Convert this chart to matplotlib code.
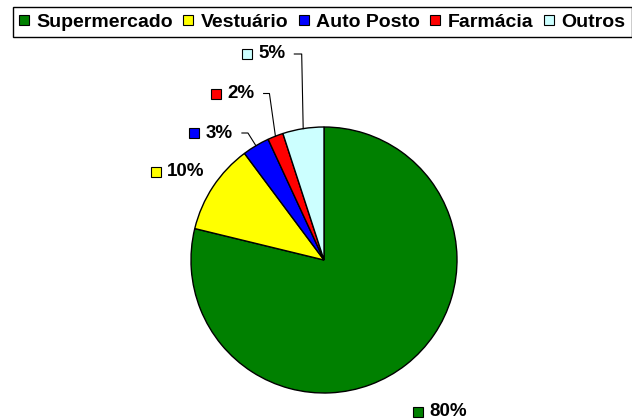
import numpy as np
import matplotlib
matplotlib.use("Agg")
import matplotlib.pyplot as plt
from matplotlib.lines import Line2D

# data (wedge sizes as drawn; printed labels as shown)
categories = ["Supermercado", "Vestuário", "Auto Posto", "Farmácia", "Outros"]
shares = [78.8, 11.0, 3.3, 1.9, 5.0]
labels = ["80%", "10%", "3%", "2%", "5%"]
colors = ["#008000", "#FFFF00", "#0000FF", "#FF0000", "#CCFFFF"]

W, H = 632, 420
plt.rcParams["font.family"] = ["Liberation Sans", "DejaVu Sans"]
plt.rcParams["font.weight"] = "bold"

fig = plt.figure(figsize=(W / 100, H / 100), dpi=100)
ax = fig.add_axes([0, 0, 1, 1])

cx, cy, r = 324, H - 260, 133
wedges, _ = ax.pie(shares, colors=colors, startangle=90, counterclock=False,
                   center=(cx, cy), radius=r, frame=True,
                   wedgeprops=dict(edgecolor="black", linewidth=1))
ax.set_xlim(0, W)
ax.set_ylim(0, H)
ax.set_aspect("equal")
ax.axis("off")

# label square centres (pixel coords from top)
label_pos = [(418, 412), (155.5, 171.7), (194.3, 133), (216, 93.5), (246.7, 54)]
# leader corner offset from the wedge edge point (None = no leader)
leader_dx = [None, None, -8, -6, -1.5]

texts = []
for i in range(len(wedges)):
    px, py = label_pos[i]
    y = H - py
    ax.plot(px, y, "s", ms=7.2, mfc=colors[i], mec="black", mew=0.8)
    texts.append(ax.text(px + 11.5, y, labels[i], fontsize=13.5,
                         fontweight="bold", va="center", ha="left"))

fig.canvas.draw()
renderer = fig.canvas.get_renderer()
for i, w in enumerate(wedges):
    if leader_dx[i] is None:
        continue
    y = H - label_pos[i][1]
    bb = texts[i].get_window_extent(renderer)
    mid = np.deg2rad((w.theta1 + w.theta2) / 2)
    ex = cx + r * np.cos(mid)
    ey = cy + r * np.sin(mid)
    ax.plot([bb.x1 + 9, ex + leader_dx[i], ex], [y, y, ey], color="black", lw=0.8)

handles = [Line2D([], [], marker="s", ls="none", ms=7.2, mfc=c, mec="black", mew=0.8)
           for c in colors]
leg = fig.legend(handles, categories, loc="upper left", ncol=5,
                 bbox_to_anchor=(12.7 / W, 1 - 6.7 / H), borderaxespad=0,
                 prop=dict(weight="bold", size=14), handlelength=0.47,
                 handletextpad=0.41, columnspacing=0.55, borderpad=0.33,
                 fancybox=False, framealpha=1, edgecolor="black")
leg.get_frame().set_linewidth(1)

fig.savefig("out.png", dpi=100)
